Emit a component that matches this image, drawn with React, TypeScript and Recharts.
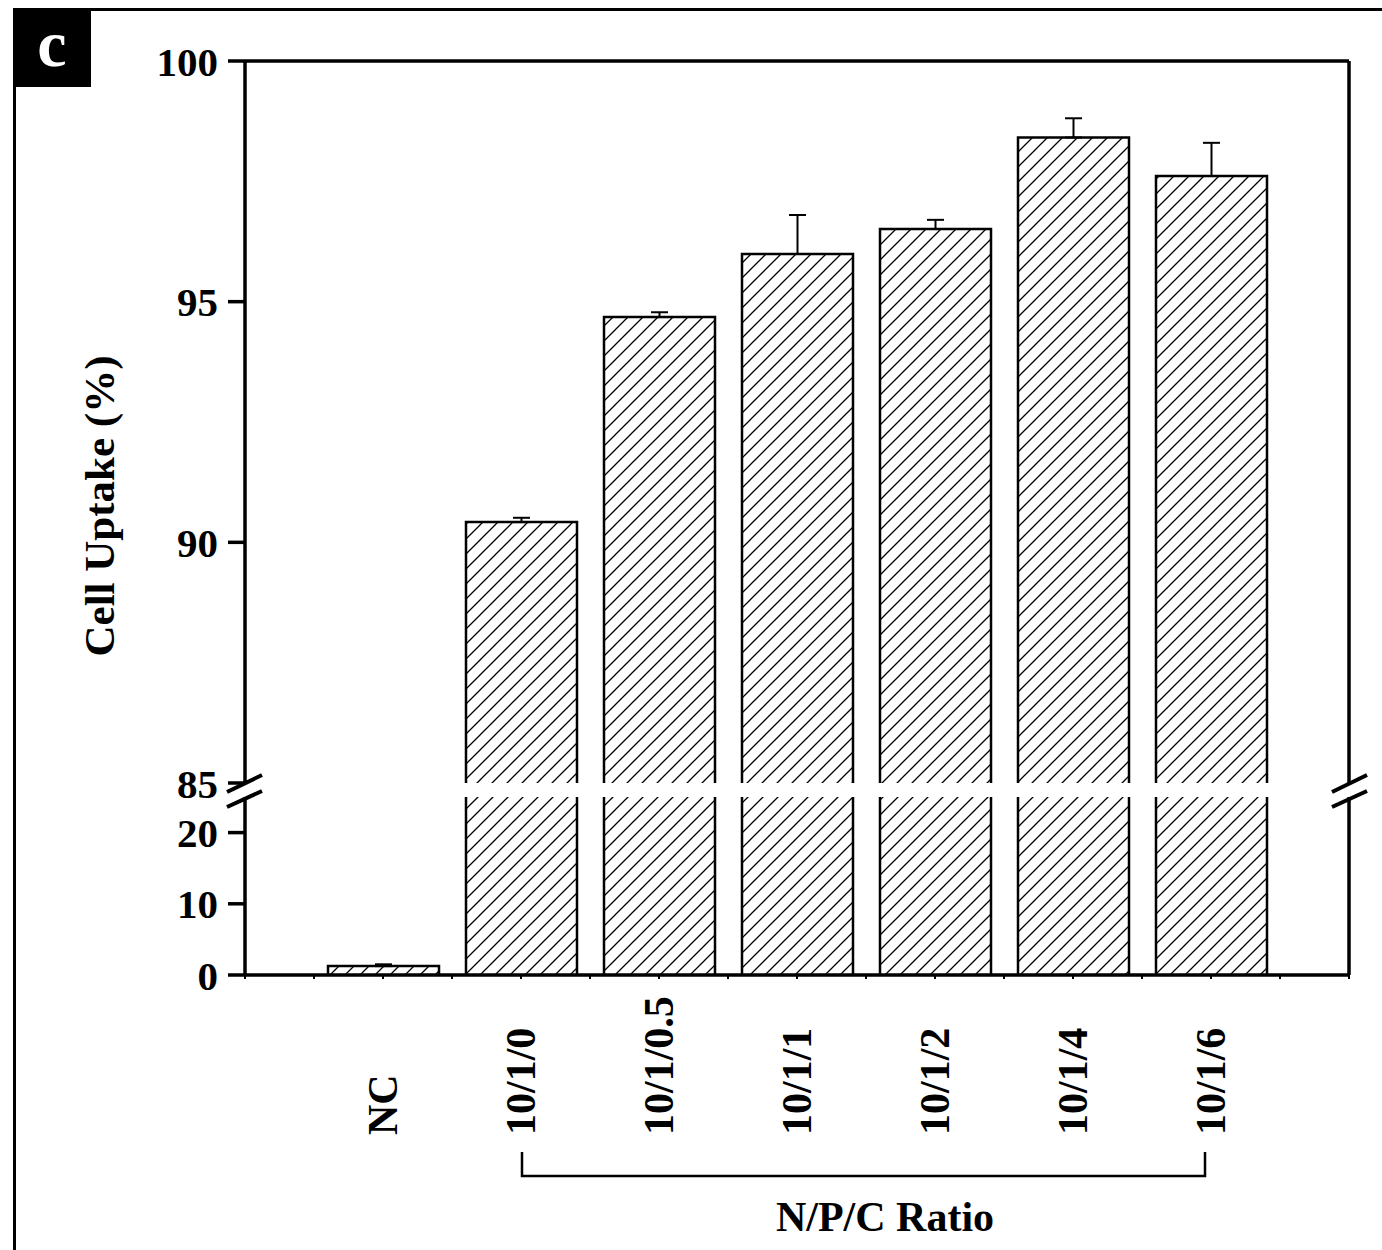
import React from "react";
import { Bar, BarChart, ErrorBar, ReferenceLine, XAxis, YAxis } from "recharts";

// values
const categories = ["NC", "10/1/0", "10/1/0.5", "10/1/1", "10/1/2", "10/1/4", "10/1/6"];
const positions = [1, 2, 3, 4, 5, 6, 7];
const uptake = [1.25, 90.42, 94.68, 95.99, 96.51, 98.41, 97.61];
const sd = [0.25, 0.09, 0.1, 0.81, 0.19, 0.4, 0.69];

const upperTicks = [85, 90, 95, 100];
const lowerTicks = [0, 10, 20];
const barTicks = [0, 1, 2, 3, 4, 5, 6, 7, 8];
const frameTicks = [0, 0.5, 1, 1.5, 2, 2.5, 3, 3.5, 4, 4.5, 5, 5.5, 6, 6.5, 7, 7.5, 8];

const BREAK_AT = 85;
const LOWER_MAX = 25;

const rows = categories.map((name, i) => ({
  name,
  pos: positions[i],
  value: uptake[i],
  upper: uptake[i] >= BREAK_AT ? uptake[i] : null,
  errUpper: uptake[i] >= BREAK_AT ? [0, sd[i]] : null,
  errLower: uptake[i] <= LOWER_MAX ? [0, sd[i]] : null,
}));

const W = 1382;
const H = 1250;
const PLOT_LEFT = 245;
const PLOT_RIGHT = 1349;
const UPPER_TOP = 61;
const UPPER_BOTTOM = 783;
const LOWER_TOP = 797;
const LOWER_BOTTOM = 975;
const LEFT_AXIS_W = 80;
const RIGHT_AXIS_W = 10;
const X_AXIS_H = 200;
const UPPER_PAD = 50;

const FONT = "'Liberation Serif', 'Times New Roman', serif";
const AXIS_STROKE = 3.5;

const tickStyle = { fill: "#000", fontSize: 41, fontWeight: "bold", fontFamily: FONT };
const axisLine = { stroke: "#000", strokeWidth: AXIS_STROKE };

const HatchedBar = (props: any) => {
  const { x, y, width, height } = props;
  if (x == null || y == null || !width || !height) return null;
  const bottom = y + height;
  return (
    <g>
      <rect x={x} y={y} width={width} height={height} fill="url(#hatch)" />
      <path
        d={`M${x},${bottom} L${x},${y} L${x + width},${y} L${x + width},${bottom}`}
        fill="none"
        stroke="#000"
        strokeWidth={2.5}
      />
    </g>
  );
};

const CategoryTick = (props: any) => {
  const { x, y, payload } = props;
  const idx = positions.indexOf(payload.value);
  if (idx < 0) return <g />;
  return (
    <text
      transform={`translate(${x},${y + 154}) rotate(-90)`}
      textAnchor="start"
      dy="0.34em"
      fill="#000"
      fontSize={42}
      fontWeight="bold"
      fontFamily={FONT}
    >
      {categories[idx]}
    </text>
  );
};

export default function App() {
  const breakLeft = PLOT_LEFT - 18;
  const breakRight = PLOT_RIGHT - 17;
  return (
    <div style={{ position: "absolute", left: 0, top: 0, width: W, height: H, background: "#fff", overflow: "hidden" }}>
      <svg width={0} height={0} style={{ position: "absolute" }}>
        <defs>
          <pattern id="hatch" patternUnits="userSpaceOnUse" width={15} height={15}>
            <path d="M0,15 L15,0 M-4,4 L4,-4 M11,19 L19,11" stroke="#000" strokeWidth={1.3} />
          </pattern>
        </defs>
      </svg>

      {/* frame of the figure */}
      <div style={{ position: "absolute", left: 13, top: 8, width: W, height: H, borderTop: "3px solid #000", borderLeft: "3px solid #000" }} />
      <div
        style={{
          position: "absolute", left: 13, top: 9, width: 78, height: 78, background: "#000", color: "#fff",
          fontFamily: FONT, fontWeight: "bold", fontSize: 66, lineHeight: "70px", textAlign: "center",
        }}
      >
        c
      </div>

      {/* upper section 85-100 */}
      <div style={{ position: "absolute", left: 0, top: 0 }}>
        <BarChart
          width={W}
          height={UPPER_BOTTOM + UPPER_PAD}
          data={rows}
          margin={{ top: UPPER_TOP, right: W - PLOT_RIGHT - RIGHT_AXIS_W, bottom: UPPER_PAD, left: PLOT_LEFT - LEFT_AXIS_W }}
        >
          <XAxis dataKey="pos" type="number" domain={[0, 8]} ticks={barTicks} height={0} hide />
          <YAxis
            type="number"
            domain={[BREAK_AT, 100]}
            ticks={upperTicks}
            interval={0}
            width={LEFT_AXIS_W}
            tickSize={17}
            tickMargin={10}
            tick={tickStyle}
            tickLine={axisLine}
            axisLine={axisLine}
            allowDataOverflow
          />
          <YAxis
            yAxisId="r"
            orientation="right"
            type="number"
            domain={[BREAK_AT, 100]}
            ticks={upperTicks}
            interval={0}
            width={RIGHT_AXIS_W}
            tickSize={3}
            tick={false}
            tickLine={{ stroke: "#000", strokeWidth: 2 }}
            axisLine={axisLine}
          />
          <ReferenceLine y={100} stroke="#000" strokeWidth={AXIS_STROKE} />
          <Bar dataKey="upper" barSize={111} shape={HatchedBar} isAnimationActive={false}>
            <ErrorBar dataKey="errUpper" width={8.5} stroke="#000" strokeWidth={2} isAnimationActive={false} />
          </Bar>
        </BarChart>
      </div>

      {/* lower section 0-25 with the category axis */}
      <div style={{ position: "absolute", left: 0, top: 0 }}>
        <BarChart
          width={W}
          height={H}
          data={rows}
          margin={{ top: LOWER_TOP, right: W - PLOT_RIGHT - RIGHT_AXIS_W, bottom: H - LOWER_BOTTOM - X_AXIS_H, left: PLOT_LEFT - LEFT_AXIS_W }}
        >
          <XAxis xAxisId="bar" dataKey="pos" type="number" domain={[0, 8]} ticks={barTicks} height={0} hide />
          <XAxis
            xAxisId="frame"
            dataKey="pos"
            type="number"
            domain={[0, 8]}
            ticks={frameTicks}
            height={X_AXIS_H}
            tickSize={4}
            tickMargin={2}
            tick={<CategoryTick />}
            tickLine={{ stroke: "#000", strokeWidth: 2 }}
            axisLine={axisLine}
            interval={0}
          />
          <YAxis
            type="number"
            domain={[0, LOWER_MAX]}
            ticks={lowerTicks}
            interval={0}
            width={LEFT_AXIS_W}
            tickSize={17}
            tickMargin={10}
            tick={tickStyle}
            tickLine={axisLine}
            axisLine={axisLine}
            allowDataOverflow
          />
          <YAxis
            yAxisId="r"
            orientation="right"
            type="number"
            domain={[0, LOWER_MAX]}
            ticks={lowerTicks}
            interval={0}
            width={RIGHT_AXIS_W}
            tickSize={3}
            tick={false}
            tickLine={{ stroke: "#000", strokeWidth: 2 }}
            axisLine={axisLine}
          />
          <Bar xAxisId="bar" dataKey="value" barSize={111} shape={HatchedBar} isAnimationActive={false}>
            <ErrorBar dataKey="errLower" width={8.5} stroke="#000" strokeWidth={2} isAnimationActive={false} />
          </Bar>
        </BarChart>
      </div>

      {/* axis break marks, group bracket and titles */}
      <svg width={W} height={H} style={{ position: "absolute", left: 0, top: 0, pointerEvents: "none" }}>
        {[breakLeft, breakRight].map((bx) => (
          <g key={bx} stroke="#000" strokeWidth={4}>
            <line x1={bx} y1={UPPER_BOTTOM + 9} x2={bx + 35} y2={UPPER_BOTTOM - 8} />
            <line x1={bx} y1={LOWER_TOP + 10} x2={bx + 35} y2={LOWER_TOP - 6} />
          </g>
        ))}
        <path d="M522,1152 L522,1176 L1205,1176 L1205,1152" fill="none" stroke="#000" strokeWidth={2.5} />
        <text x={885} y={1231} textAnchor="middle" fontFamily={FONT} fontWeight="bold" fontSize={42} fill="#000">
          N/P/C Ratio
        </text>
        <text
          x={114}
          y={506}
          transform="rotate(-90 114 506)"
          textAnchor="middle"
          fontFamily={FONT}
          fontWeight="bold"
          fontSize={43}
          fill="#000"
        >
          Cell Uptake (%)
        </text>
      </svg>
    </div>
  );
}
